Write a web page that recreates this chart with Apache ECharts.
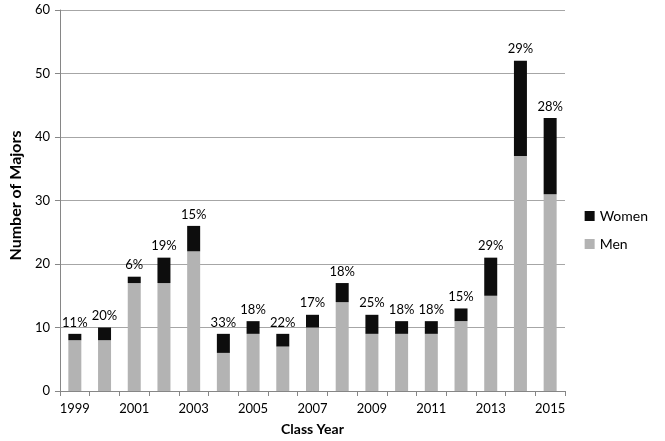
<!DOCTYPE html>
<html><head><meta charset="utf-8">
<script src="https://cdn.jsdelivr.net/npm/echarts@6/dist/echarts.min.js"></script>
<style>html,body{margin:0;padding:0;background:#fff}#c{width:665px;height:441px}</style>
</head><body><div id="c"></div>
<script>
var years = ['1999','2000','2001','2002','2003','2004','2005','2006','2007','2008','2009','2010','2011','2012','2013','2014','2015'];
var men =   [8, 8, 17, 17, 22, 6, 9, 7, 10, 14, 9, 9, 9, 11, 15, 37, 31];
var women = [1, 2, 1, 4, 4, 3, 2, 2, 2, 3, 3, 2, 2, 2, 6, 15, 12];

var font = 'Lato, "Open Sans", sans-serif';
var chart = echarts.init(document.getElementById('c'));
chart.setOption({
  animation: false,
  textStyle: {fontFamily: font},
  grid: {left: 57, right: 100, top: 10, bottom: 49},
  legend: {
    orient: 'vertical', right: 12, top: 204, itemWidth: 10, itemHeight: 10, itemGap: 14,
    icon: 'rect',
    data: ['Women', 'Men'],
    textStyle: {fontFamily: font, fontSize: 14, color: '#000'}
  },
  xAxis: {
    type: 'category', data: years,
    name: 'Class Year', nameLocation: 'middle', nameGap: 31,
    nameTextStyle: {fontFamily: font, fontWeight: 'bold', fontSize: 14, color: '#000'},
    axisLine: {lineStyle: {color: '#868686'}},
    axisTick: {show: true, alignWithLabel: false, interval: 0, length: 5, lineStyle: {color: '#868686'}},
    axisLabel: {interval: 1, color: '#000', fontSize: 13, margin: 11, fontFamily: font}
  },
  yAxis: {
    type: 'value', min: 0, max: 60, interval: 10,
    name: 'Number of Majors', nameLocation: 'middle', nameGap: 31,
    nameTextStyle: {fontFamily: font, fontWeight: 'bold', fontSize: 16, color: '#000', padding: [0, 0, 0, 10]},
    axisLine: {show: true, lineStyle: {color: '#868686'}},
    axisTick: {show: true, length: 5, lineStyle: {color: '#868686'}},
    axisLabel: {color: '#000', fontSize: 13, margin: 10, fontFamily: font},
    splitLine: {lineStyle: {color: '#a6a6a6'}}
  },
  series: [
    {name: 'Men', type: 'bar', stack: 'a', data: men, barWidth: 13,
     itemStyle: {color: '#b3b3b3'}},
    {name: 'Women', type: 'bar', stack: 'a', data: women, barWidth: 13,
     itemStyle: {color: '#0d0d0d'},
     label: {show: true, position: 'top', distance: 5, color: '#000', fontSize: 13, fontFamily: font,
       formatter: function(p){ var i = p.dataIndex; return Math.round(women[i] / (women[i] + men[i]) * 100) + '%'; }}}
  ]
});
</script></body></html>
